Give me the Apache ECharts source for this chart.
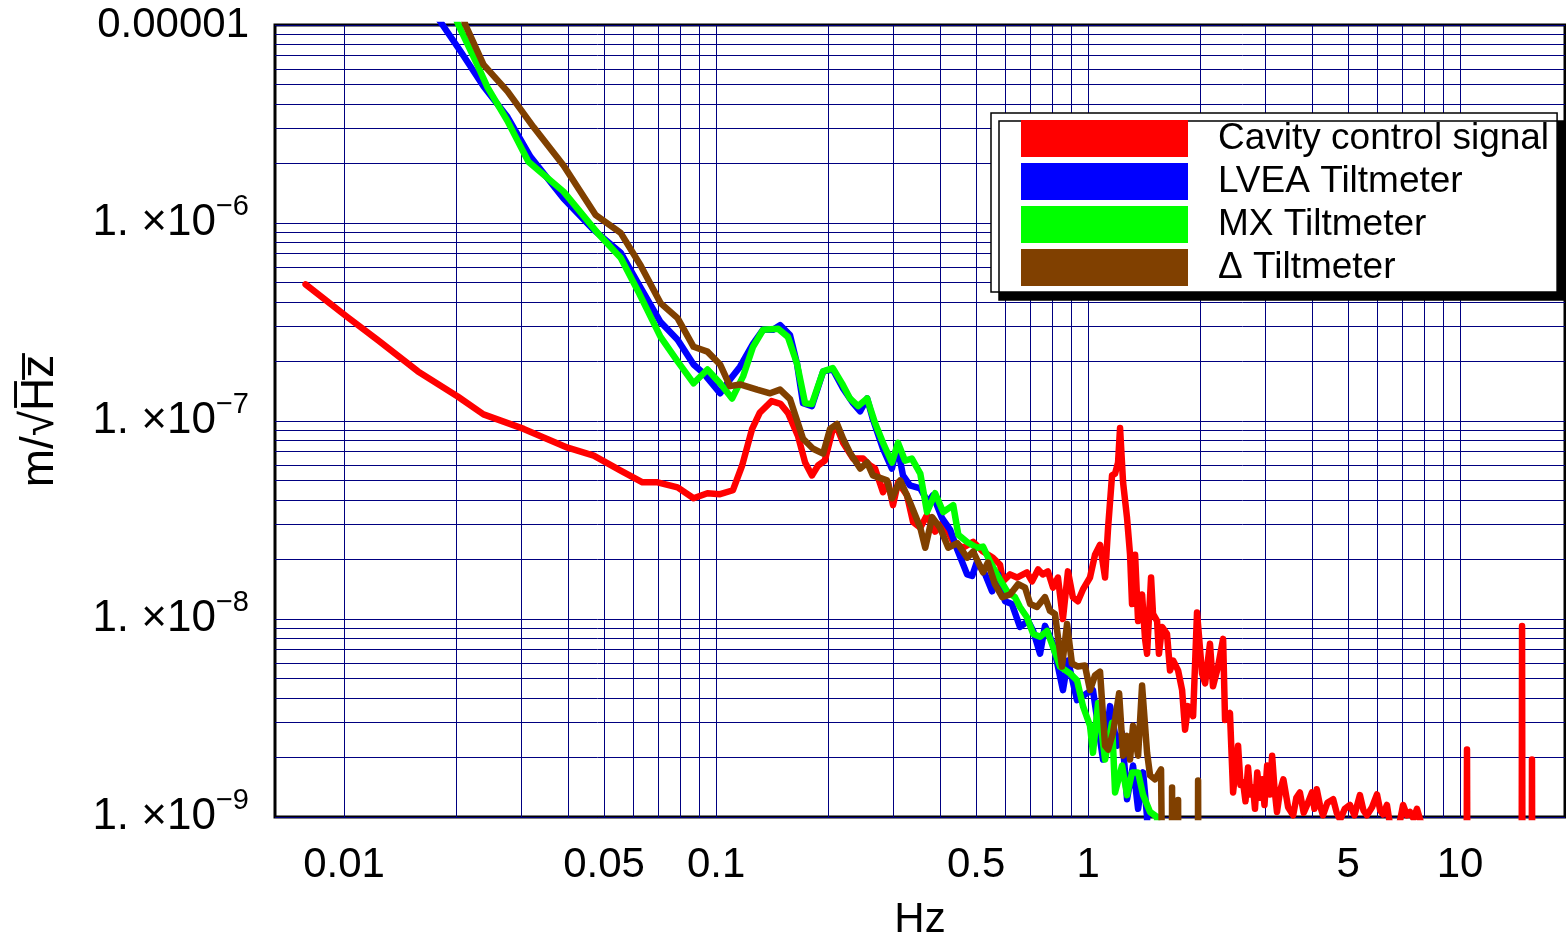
<!DOCTYPE html>
<html>
<head>
<meta charset="utf-8">
<script src="https://cdn.jsdelivr.net/npm/echarts@6/dist/echarts.min.js"></script>
<style>
  html, body { margin: 0; padding: 0; background: #ffffff; }
  #chart { width: 1566px; height: 946px; }
</style>
</head>
<body>
<div id="chart"></div>
<script>
// Amplitude spectral densities, [frequency (Hz), amplitude (m/sqrt(Hz))]
const cavitySignal = [
  [0.00788, 4.90e-7], [0.0102, 3.35e-7], [0.0123, 2.57e-7], [0.0158, 1.78e-7], [0.0202, 1.33e-7],
  [0.0237, 1.08e-7], [0.0304, 9.12e-8], [0.0399, 7.33e-8], [0.0469, 6.68e-8], [0.0554, 5.62e-8],
  [0.0634, 4.90e-8], [0.0696, 4.90e-8], [0.0788, 4.62e-8], [0.0870, 4.07e-8], [0.0948, 4.32e-8],
  [0.1025, 4.27e-8], [0.111, 4.47e-8], [0.1175, 5.96e-8], [0.125, 9.12e-8], [0.131, 1.10e-7],
  [0.141, 1.26e-7], [0.149, 1.22e-7], [0.156, 1.10e-7], [0.166, 8.41e-8], [0.1735, 6.17e-8],
  [0.181, 5.31e-8], [0.188, 5.96e-8], [0.196, 6.31e-8], [0.206, 9.12e-8], [0.2115, 9.23e-8],
  [0.2195, 7.76e-8], [0.2335, 6.46e-8], [0.2485, 6.46e-8], [0.2595, 5.96e-8], [0.2675, 5.75e-8],
  [0.281, 4.37e-8], [0.290, 4.90e-8], [0.299, 3.76e-8], [0.3085, 4.90e-8], [0.326, 4.22e-8],
  [0.3385, 3.09e-8], [0.354, 2.89e-8], [0.369, 3.35e-8], [0.388, 2.76e-8], [0.408, 3.09e-8],
  [0.434, 2.45e-8], [0.461, 2.29e-8], [0.491, 2.45e-8], [0.522, 2.19e-8], [0.555, 2.04e-8],
  [0.580, 1.88e-8], [0.591, 1.55e-8], [0.617, 1.68e-8], [0.644, 1.62e-8], [0.685, 1.72e-8],
  [0.707, 1.55e-8], [0.734, 1.78e-8], [0.756, 1.68e-8], [0.780, 1.74e-8], [0.805, 1.44e-8],
  [0.830, 1.62e-8], [0.856, 1.00e-8], [0.883, 1.74e-8], [0.910, 1.29e-8], [0.939, 1.23e-8],
  [0.969, 1.41e-8], [1.012, 1.62e-8], [1.044, 2.11e-8], [1.077, 2.37e-8], [1.111, 1.62e-8],
  [1.132, 2.89e-8], [1.160, 5.31e-8], [1.182, 5.42e-8], [1.204, 6.17e-8], [1.219, 9.23e-8],
  [1.242, 4.90e-8], [1.273, 3.23e-8], [1.297, 2.11e-8], [1.313, 1.19e-8], [1.338, 2.11e-8],
  [1.363, 9.77e-9], [1.397, 1.33e-8], [1.423, 7.94e-9], [1.441, 6.68e-9], [1.477, 1.62e-8],
  [1.495, 1.06e-8], [1.533, 9.77e-9], [1.551, 6.68e-9], [1.581, 9.12e-9], [1.630, 8.41e-9],
  [1.661, 5.50e-9], [1.693, 6.17e-9], [1.746, 5.50e-9], [1.790, 4.37e-9], [1.823, 2.76e-9],
  [1.857, 3.63e-9], [1.916, 3.23e-9], [1.963, 1.08e-8], [2.025, 5.31e-9], [2.064, 4.73e-9],
  [2.127, 7.50e-9], [2.167, 4.57e-9], [2.236, 5.75e-9], [2.307, 7.94e-9], [2.335, 3.09e-9],
  [2.407, 3.35e-9], [2.454, 1.33e-9], [2.531, 2.29e-9], [2.57, 1.45e-9], [2.61, 1.50e-9],
  [2.65, 1.20e-9], [2.692, 1.78e-9], [2.73, 1.30e-9], [2.777, 1.41e-9], [2.81, 1.10e-9],
  [2.85, 1.68e-9], [2.90, 1.25e-9], [2.94, 1.55e-9], [2.98, 1.15e-9], [3.03, 1.82e-9],
  [3.08, 1.30e-9], [3.125, 2.04e-9], [3.17, 1.40e-9], [3.22, 1.06e-9], [3.28, 1.35e-9],
  [3.35, 1.55e-9], [3.45, 1.12e-9], [3.56, 1.02e-9], [3.63, 1.25e-9], [3.71, 1.33e-9],
  [3.80, 1.05e-9], [3.88, 1.15e-9], [4.00, 1.33e-9], [4.06, 1.10e-9], [4.12, 1.38e-9],
  [4.20, 1.15e-9], [4.28, 1.02e-9], [4.40, 1.18e-9], [4.56, 1.23e-9], [4.66, 1.05e-9],
  [4.76, 0.97e-9], [4.90, 1.10e-9], [5.06, 1.15e-9], [5.20, 1.02e-9], [5.38, 1.29e-9],
  [5.50, 1.08e-9], [5.62, 1.02e-9], [5.80, 1.12e-9], [5.98, 1.30e-9], [6.10, 1.08e-9],
  [6.21, 1.03e-9], [6.36, 1.15e-9], [6.49, 0.9e-9], [6.77, 0.8e-9], [7.03, 1.15e-9],
  [7.20, 1.02e-9], [7.34, 1.06e-9], [7.50, 0.98e-9], [7.66, 1.10e-9], [7.90, 0.9e-9],
  [8.5, 1e-11], [10.35, 1e-11], [10.44, 2.19e-9], [10.53, 1e-11], [14.6, 1e-11],
  [14.68, 9.23e-9], [14.76, 1e-11], [15.52, 1e-11], [15.61, 1.95e-9], [15.70, 1e-11],
  [19.5, 1e-11]
];

const lveaTilt = [
  [0.0175, 1.15e-5], [0.0184, 1.0e-5], [0.0206, 7.33e-6], [0.0237, 4.90e-6], [0.0275, 3.43e-6],
  [0.0317, 2.16e-6], [0.0389, 1.33e-6], [0.0469, 9.23e-7], [0.0554, 7.08e-7], [0.0615, 5.01e-7],
  [0.0709, 3.16e-7], [0.0788, 2.57e-7], [0.0870, 1.93e-7], [0.0926, 1.74e-7], [0.1025, 1.38e-7],
  [0.109, 1.62e-7], [0.116, 1.88e-7], [0.1257, 2.45e-7], [0.1338, 2.89e-7], [0.1423, 2.89e-7],
  [0.1486, 3.05e-7], [0.158, 2.72e-7], [0.165, 1.95e-7], [0.1713, 1.23e-7], [0.181, 1.19e-7],
  [0.194, 1.78e-7], [0.206, 1.82e-7], [0.2195, 1.46e-7], [0.2335, 1.23e-7], [0.244, 1.12e-7],
  [0.2547, 1.30e-7], [0.264, 1.02e-7], [0.281, 7.24e-8], [0.297, 5.75e-8], [0.307, 7.50e-8],
  [0.318, 5.31e-8], [0.332, 4.73e-8], [0.354, 4.57e-8], [0.371, 3.89e-8], [0.383, 4.22e-8],
  [0.405, 3.23e-8], [0.426, 2.82e-8], [0.445, 2.24e-8], [0.473, 1.68e-8], [0.488, 1.65e-8],
  [0.503, 1.95e-8], [0.529, 1.68e-8], [0.552, 1.38e-8], [0.573, 1.68e-8], [0.598, 1.23e-8],
  [0.624, 1.19e-8], [0.656, 9.12e-9], [0.690, 9.77e-9], [0.712, 8.71e-9], [0.743, 6.68e-9],
  [0.766, 9.23e-9], [0.805, 7.50e-9], [0.830, 5.75e-9], [0.856, 4.37e-9], [0.883, 6.17e-9],
  [0.934, 3.89e-9], [0.994, 4.22e-9], [1.031, 4.37e-9], [1.064, 2.89e-9], [1.097, 1.95e-9],
  [1.146, 3.63e-9], [1.197, 2.29e-9], [1.234, 2.66e-9], [1.273, 1.23e-9], [1.321, 1.82e-9],
  [1.363, 1.10e-9], [1.406, 1.68e-9], [1.441, 1.0e-9], [1.47, 1e-11]
];

const mxTilt = [
  [0.0198, 1.12e-5], [0.0203, 1.0e-5], [0.0228, 6.31e-6], [0.0243, 4.84e-6], [0.0275, 3.27e-6],
  [0.0313, 2.04e-6], [0.0389, 1.44e-6], [0.0480, 8.91e-7], [0.0554, 6.68e-7], [0.0619, 4.47e-7],
  [0.0709, 2.66e-7], [0.0788, 2.00e-7], [0.0870, 1.55e-7], [0.0948, 1.82e-7], [0.1025, 1.55e-7],
  [0.1104, 1.30e-7], [0.1182, 1.68e-7], [0.1257, 2.37e-7], [0.1338, 2.89e-7], [0.1468, 2.92e-7],
  [0.156, 2.66e-7], [0.165, 1.95e-7], [0.1735, 1.23e-7], [0.181, 1.22e-7], [0.194, 1.78e-7],
  [0.206, 1.85e-7], [0.218, 1.55e-7], [0.229, 1.30e-7], [0.241, 1.19e-7], [0.2547, 1.30e-7],
  [0.2675, 9.77e-8], [0.281, 7.76e-8], [0.297, 6.17e-8], [0.3085, 7.76e-8], [0.322, 6.31e-8],
  [0.336, 6.46e-8], [0.354, 5.42e-8], [0.369, 3.47e-8], [0.388, 4.32e-8], [0.408, 3.47e-8],
  [0.434, 3.76e-8], [0.448, 2.66e-8], [0.473, 2.45e-8], [0.503, 2.29e-8], [0.522, 2.32e-8],
  [0.545, 1.95e-8], [0.569, 1.68e-8], [0.606, 1.38e-8], [0.636, 1.29e-8], [0.656, 1.15e-8],
  [0.685, 1.02e-8], [0.712, 8.41e-9], [0.743, 8.13e-9], [0.776, 8.71e-9], [0.805, 7.24e-9],
  [0.841, 5.75e-9], [0.894, 5.31e-9], [0.934, 4.90e-9], [0.969, 3.63e-9], [1.012, 2.89e-9],
  [1.031, 2.11e-9], [1.064, 3.76e-9], [1.111, 1.95e-9], [1.160, 2.99e-9], [1.182, 1.33e-9],
  [1.234, 1.82e-9], [1.273, 1.29e-9], [1.313, 1.68e-9], [1.363, 1.68e-9], [1.406, 1.29e-9],
  [1.468, 1.06e-9], [1.533, 1.0e-9], [1.56, 1e-11]
];

const deltaTilt = [
  [0.0208, 1.12e-5], [0.0212, 1.0e-5], [0.0237, 6.31e-6], [0.0275, 4.62e-6], [0.0323, 3.05e-6],
  [0.0389, 1.95e-6], [0.0474, 1.10e-6], [0.0554, 8.91e-7], [0.0627, 6.10e-7], [0.0709, 3.94e-7],
  [0.0788, 3.31e-7], [0.0870, 2.37e-7], [0.0948, 2.24e-7], [0.1025, 1.93e-7], [0.109, 1.50e-7],
  [0.116, 1.53e-7], [0.1289, 1.44e-7], [0.1397, 1.38e-7], [0.1486, 1.44e-7], [0.158, 1.29e-7],
  [0.1713, 8.13e-8], [0.1823, 7.24e-8], [0.194, 6.84e-8], [0.2025, 9.12e-8], [0.2115, 9.66e-8],
  [0.2195, 8.13e-8], [0.229, 6.92e-8], [0.244, 5.75e-8], [0.2547, 6.17e-8], [0.264, 5.31e-8],
  [0.288, 5.01e-8], [0.297, 4.07e-8], [0.3125, 5.01e-8], [0.332, 3.89e-8], [0.354, 2.89e-8],
  [0.365, 2.29e-8], [0.381, 3.27e-8], [0.400, 2.89e-8], [0.421, 2.29e-8], [0.445, 2.42e-8],
  [0.473, 2.04e-8], [0.491, 2.19e-8], [0.522, 1.72e-8], [0.538, 1.93e-8], [0.562, 1.50e-8],
  [0.588, 1.29e-8], [0.617, 1.33e-8], [0.649, 1.50e-8], [0.677, 1.44e-8], [0.699, 1.19e-8],
  [0.729, 1.15e-8], [0.766, 1.29e-8], [0.790, 1.10e-8], [0.815, 1.06e-8], [0.830, 8.13e-9],
  [0.851, 5.75e-9], [0.878, 9.44e-9], [0.905, 5.96e-9], [0.939, 5.75e-9], [0.981, 5.82e-9],
  [1.012, 4.37e-9], [1.044, 5.19e-9], [1.077, 5.42e-9], [1.111, 2.29e-9], [1.132, 2.19e-9],
  [1.167, 2.66e-9], [1.212, 4.22e-9], [1.242, 2.04e-9], [1.273, 2.57e-9], [1.297, 1.95e-9],
  [1.321, 2.89e-9], [1.363, 2.04e-9], [1.397, 4.62e-9], [1.441, 2.11e-9], [1.468, 1.62e-9],
  [1.514, 1.55e-9], [1.571, 1.74e-9], [1.62, 1e-11], [1.675, 1e-11], [1.682, 1.41e-9],
  [1.70, 1e-11], [1.735, 1e-11], [1.746, 1.22e-9], [1.76, 1e-11], [1.965, 1e-11],
  [1.976, 1.53e-9], [1.99, 1e-11]
];

const seriesNames = ['Cavity control signal', 'LVEA Tiltmeter', 'MX Tiltmeter', '\u0394 Tiltmeter'];
const seriesColors = ['#ff0000', '#0000ff', '#00ff00', '#804000'];

// Labelled tick positions
const freqTickLabels = [0.01, 0.05, 0.1, 0.5, 1, 5, 10];
const ampTickLabels = [1e-9, 1e-8, 1e-7, 1e-6, 1e-5];

// Log grid: 1..9 times each decade
const gridFreqs = [];
[0.01, 0.1, 1].forEach(d => { for (let m = 1; m <= 9; m++) gridFreqs.push(+(m * d).toPrecision(3)); });
gridFreqs.push(10);
const gridAmps = [];
[1e-9, 1e-8, 1e-7, 1e-6].forEach(d => { for (let m = 1; m <= 9; m++) gridAmps.push(+(m * d).toPrecision(3)); });
gridAmps.push(1e-5);

const FONT = "'Liberation Sans', Arial, Helvetica, sans-serif";
const X_MIN = 0.00652, X_MAX = 19.15, Y_MIN = 1e-9, Y_MAX = 1e-5;

function ampLabel(v) {
  const e = Math.round(Math.log10(v));
  if (e === -5) return '0.00001';
  return '{m|1. \u00d710}{s|\u2212' + (-e) + '}';
}

const gridLineStyle = { color: '#000080', width: 1, type: 'solid' };
// vertical lines span the full height; horizontal lines run between the x limits
const gridMarks = gridFreqs.map(f => ({ xAxis: f }))
  .concat(gridAmps.map(a => [{ coord: [X_MIN, a] }, { coord: [X_MAX, a] }]));

const chart = echarts.init(document.getElementById('chart'), null, { renderer: 'canvas' });

const dataSeries = [cavitySignal, lveaTilt, mxTilt, deltaTilt].map((d, i) => ({
  name: seriesNames[i],
  type: 'line',
  data: d,
  xAxisIndex: 0,
  yAxisIndex: 0,
  showSymbol: false,
  symbol: 'none',
  clip: true,
  z: 3 + i,
  lineStyle: { color: seriesColors[i], width: 6.5, join: 'round', cap: 'round' },
  itemStyle: { color: seriesColors[i] },
  emphasis: { disabled: true }
}));

dataSeries[0].markLine = {
  silent: true,
  animation: false,
  symbol: ['none', 'none'],
  z: 1,
  label: { show: false },
  lineStyle: gridLineStyle,
  emphasis: { disabled: true },
  data: gridMarks
};

const option = {
  backgroundColor: '#ffffff',
  animation: false,
  textStyle: { fontFamily: FONT },
  grid: {
    left: 275, right: 1, top: 25, bottom: 121,
    show: true, borderColor: '#000000', borderWidth: 3, backgroundColor: 'transparent'
  },
  legend: {
    left: 991, top: 113, orient: 'vertical',
    icon: 'rect', itemWidth: 167, itemHeight: 37, itemGap: 6,
    padding: [7, 8, 6, 30],
    backgroundColor: '#ffffff', borderColor: '#000000', borderWidth: 1.5,
    shadowColor: '#000000', shadowOffsetX: 8, shadowOffsetY: 8, shadowBlur: 0.01,
    selectedMode: false,
    itemStyle: { borderWidth: 0 },
    textStyle: { fontSize: 37, color: '#000000', fontFamily: FONT, lineHeight: 37, padding: [0, 0, 0, 25] },
    data: seriesNames
  },
  xAxis: [{
    type: 'log', logBase: 10, min: X_MIN, max: X_MAX, position: 'bottom',
    name: 'Hz', nameLocation: 'middle', nameGap: 82,
    nameTextStyle: { fontSize: 42, color: '#000', fontFamily: FONT },
    axisLine: { show: false },
    axisTick: { show: true, inside: true, length: 7, customValues: gridFreqs, lineStyle: { color: '#000', width: 1 } },
    axisLabel: {
      show: true, customValues: freqTickLabels, margin: 27, fontSize: 42, color: '#000', fontFamily: FONT,
      formatter: v => String(+v.toPrecision(3))
    },
    splitLine: { show: false }, minorTick: { show: false }, minorSplitLine: { show: false }
  }, {
    type: 'log', logBase: 10, min: X_MIN, max: X_MAX, position: 'top',
    axisLine: { show: false },
    axisTick: { show: true, inside: true, length: 7, customValues: gridFreqs, lineStyle: { color: '#000', width: 1 } },
    axisLabel: { show: false }, splitLine: { show: false }
  }],
  yAxis: [{
    type: 'log', logBase: 10, min: Y_MIN, max: Y_MAX, position: 'left',
    name: 'm/\u221aH\u0305z\u0305', nameLocation: 'middle', nameRotate: 90, nameGap: 212,
    nameTextStyle: { fontSize: 46, color: '#000', fontFamily: FONT },
    axisLine: { show: false },
    axisTick: { show: true, inside: true, length: 7, customValues: gridAmps, lineStyle: { color: '#000', width: 1 } },
    axisLabel: {
      show: true, customValues: ampTickLabels, margin: 26, fontSize: 42, color: '#000', fontFamily: FONT,
      formatter: ampLabel,
      rich: {
        m: { fontSize: 44, color: '#000', fontFamily: FONT },
        s: { fontSize: 29, color: '#000', fontFamily: FONT, padding: [0, 0, 32, 0] }
      }
    },
    splitLine: { show: false }, minorTick: { show: false }, minorSplitLine: { show: false }
  }, {
    type: 'log', logBase: 10, min: Y_MIN, max: Y_MAX, position: 'right',
    axisLine: { show: false },
    axisTick: { show: true, inside: true, length: 7, customValues: gridAmps, lineStyle: { color: '#000', width: 1 } },
    axisLabel: { show: false }, splitLine: { show: false }
  }],
  series: dataSeries
};

chart.setOption(option);
</script>
</body>
</html>
